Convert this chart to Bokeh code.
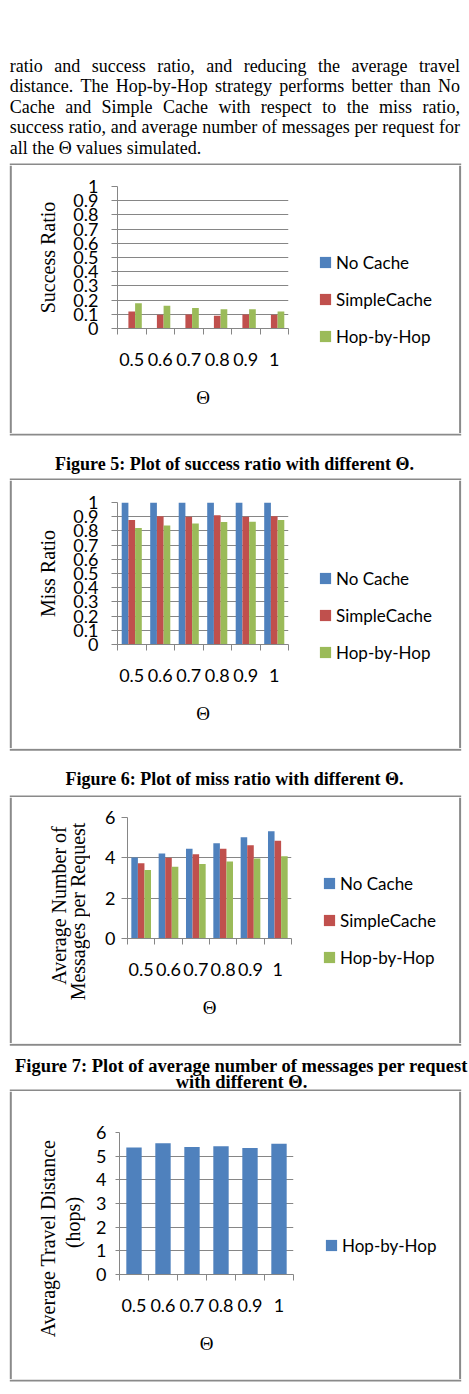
import numpy as np
from bokeh.plotting import figure
from bokeh.layouts import column, row
from bokeh.models import (Range1d, FixedTicker, NumeralTickFormatter, Legend,
                          LegendItem, ColumnDataSource)
from bokeh.core.properties import value
from bokeh.transform import dodge
from bokeh.embed import file_html
from bokeh.resources import INLINE

# ---------------- data ----------------
thetas = ["0.5", "0.6", "0.7", "0.8", "0.9", "1"]
series_names = ["No Cache", "SimpleCache", "Hop-by-Hop"]

success_nocache = [0, 0, 0, 0, 0, 0]
success_simple = [0.12, 0.097, 0.098, 0.09, 0.098, 0.097]
success_hop = [0.178, 0.16, 0.145, 0.136, 0.135, 0.12]

miss_nocache = [1, 1, 1, 1, 1, 1]
miss_simple = [0.876, 0.904, 0.9, 0.91, 0.9, 0.904]
miss_hop = [0.82, 0.838, 0.852, 0.863, 0.865, 0.876]

msg_nocache = [4.02, 4.21, 4.45, 4.72, 5.02, 5.32]
msg_simple = [3.73, 4.0, 4.18, 4.45, 4.62, 4.85]
msg_hop = [3.4, 3.56, 3.7, 3.82, 3.97, 4.08]

dist_hop = [5.37, 5.55, 5.39, 5.42, 5.34, 5.52]

ratio_ticks = [0, 0.1, 0.2, 0.3, 0.4, 0.5, 0.6, 0.7, 0.8, 0.9, 1]
msg_ticks = [0, 2, 4, 6]
dist_ticks = [0, 1, 2, 3, 4, 5, 6]

paragraph = [
    "ratio and success ratio, and reducing the average travel",
    "distance. The Hop-by-Hop strategy performs better than No",
    "Cache and Simple Cache with respect to the miss ratio,",
    "success ratio, and average number of messages per request for",
    "all the \u0398 values simulated.",
]
cap5_lines = ["Figure 5: Plot of success ratio with different \u0398."]
cap6_lines = ["Figure 6: Plot of miss ratio with different \u0398."]
cap7_lines = ["Figure 7: Plot of average number of messages per request",
              "with different \u0398."]

# ---------------- style / layout ----------------
W = 469
BLUE, RED, GREEN = "#4F81BD", "#C0504D", "#9BBB59"
GRID = "#868686"
BOX = "#8a8a8a"
SERIF = "Liberation Serif"
SANS = "Lato"
BOX_L, BOX_R = 9.3, 460.7          # outer extent of the chart boxes
EDGE_L, EDGE_R = 10.3, 459.6       # centres of the vertical box edges

# Times metrics (per 1000 em) for justified text placement
TW = dict(zip("abcdefghijklmnopqrstuvwxyz",
              [444, 500, 444, 500, 444, 333, 500, 500, 278, 278, 500, 278, 778,
               500, 500, 500, 500, 333, 389, 278, 500, 500, 722, 500, 500, 444]))
TW.update({"C": 667, "H": 722, "N": 722, "S": 556, "T": 611, "\u0398": 722,
           ".": 250, ",": 250, "-": 333, " ": 250})


def word_w(w, size):
    return sum(TW.get(ch, 500) for ch in w) * size / 1000.0


def pix_fig(w, h):
    f = figure(width=w, height=h, x_range=Range1d(0, w), y_range=Range1d(h, 0),
               output_backend="svg", toolbar_location=None, min_border=0,
               x_axis_location=None, y_axis_location=None, frame_align=False)
    f.grid.visible = False
    f.outline_line_color = None
    f.background_fill_color = "white"
    f.border_fill_color = "white"
    return f


def hedge(f, y):
    f.segment(x0=[BOX_L], y0=[y], x1=[BOX_R], y1=[y], line_color=BOX, line_width=2)


def vedge(f, x, h):
    f.segment(x0=[x], y0=[0], x1=[x], y1=[h], line_color=BOX, line_width=2)


# ---------------- paragraph ----------------
tp = pix_fig(W, 165)
FS = 18
LEFT, RIGHT = 9.3, 459.5
xs, ys, ws = [], [], []
for i, line in enumerate(paragraph):
    base = 65 + 20.6 * i
    words = line.split(" ")
    if i < len(paragraph) - 1:
        total = sum(word_w(w, FS) for w in words)
        gap = (RIGHT - LEFT - total) / (len(words) - 1)
        x = LEFT
        for w in words:
            xs.append(x); ys.append(base); ws.append(w)
            x += word_w(w, FS) + gap
    else:
        xs.append(LEFT); ys.append(base); ws.append(line)
tp.text(x=xs, y=ys, text=ws, text_font=value(SERIF), text_font_size="18px",
        text_align="left", text_baseline="alphabetic", text_color="black")
hedge(tp, 164)


def caption_fig(h, lines, cx, baselines, edges, size="18px"):
    f = pix_fig(W, h)
    f.text(x=[cx] * len(lines), y=baselines, text=lines, text_font=value(SERIF),
           text_font_size=size, text_font_style="bold", text_align="center",
           text_baseline="alphabetic", text_color="black")
    for y in edges:
        hedge(f, y)
    return f


# ---------------- chart rows ----------------
def chart_row(row_top, row_h, xL, xR, frame, ymax, yticks, ytick_out, ystand,
              data, colors, names, bar_w, offsets, titles, leg_left, leg_c0):
    fl, fr, ft, fb = frame
    # left strip: axis title(s) + left box edge
    L = pix_fig(xL, row_h)
    for text, tx, ty in titles:
        L.text(x=[tx], y=[ty - row_top], text=[text], angle=np.pi / 2,
               text_font=value(SERIF), text_font_size="20px", text_align="center",
               text_baseline="middle", text_color="black")
    vedge(L, EDGE_L, row_h)

    # chart itself
    p = figure(width=xR - xL, height=row_h, x_range=Range1d(0, len(thetas)),
               y_range=Range1d(0, ymax), output_backend="svg", toolbar_location=None,
               frame_align=False,
               min_border_left=fl - xL, min_border_right=xR - fr,
               min_border_top=ft - row_top, min_border_bottom=row_top + row_h - fb)
    p.outline_line_color = None
    p.background_fill_color = "white"
    p.border_fill_color = "white"
    centers = [i + 0.5 for i in range(len(thetas))]
    src = ColumnDataSource(dict(x=centers, **{f"s{j}": v for j, v in enumerate(data)}))
    for j, c in enumerate(colors):
        p.vbar(x=dodge("x", offsets[j]), top=f"s{j}", width=bar_w, source=src,
               fill_color=c, line_color=None)

    xa = p.xaxis[0]
    xa.ticker = FixedTicker(ticks=centers, minor_ticks=list(range(len(thetas) + 1)))
    xa.major_label_overrides = {c: t for c, t in zip(centers, thetas)}
    xa.major_tick_line_color = None
    xa.major_tick_in = 0
    xa.major_tick_out = 0
    xa.minor_tick_in = 0
    xa.minor_tick_out = 6
    xa.minor_tick_line_color = GRID
    xa.axis_line_color = GRID
    xa.major_label_standoff = 18
    xa.major_label_text_font = SANS
    xa.major_label_text_font_size = "18px"
    xa.major_label_text_color = "black"
    xa.axis_label = "\u0398"
    xa.axis_label_text_font = SERIF
    xa.axis_label_text_font_size = "19px"
    xa.axis_label_text_font_style = "normal"
    xa.axis_label_text_color = "black"
    xa.axis_label_standoff = 18

    ya = p.yaxis[0]
    ya.ticker = FixedTicker(ticks=yticks)
    ya.formatter = NumeralTickFormatter(format="0.[0]")
    ya.major_tick_in = 0
    ya.major_tick_out = ytick_out
    ya.major_tick_line_color = GRID
    ya.minor_tick_line_color = None
    ya.axis_line_color = GRID
    ya.major_label_standoff = ystand
    ya.major_label_text_font = SANS
    ya.major_label_text_font_size = "18px"
    ya.major_label_text_color = "black"

    p.xgrid.visible = False
    p.ygrid.grid_line_color = GRID

    # right strip: legend (proxy renderers without visible marks) + right box edge
    wR = W - xR
    R = pix_fig(wR, row_h)
    rends = [R.vbar(x=[np.nan], top=[np.nan], width=1, fill_color=c, line_color=None)
             for c in colors]
    n = len(names)
    item_h, spacing = 22, 15
    top = leg_c0 - row_top - item_h / 2
    bottom = top + n * item_h + (n - 1) * spacing
    legend = Legend(items=[LegendItem(label=nm, renderers=[r]) for nm, r in zip(names, rends)],
                    location=(int(round(leg_left - 1.4 - xR)), int(round(row_h - bottom))),
                    orientation="vertical", padding=0, margin=0, spacing=spacing,
                    glyph_width=14, glyph_height=14, label_height=item_h,
                    label_standoff=4, label_text_font=SANS, label_text_font_size="17px",
                    label_text_color="black", border_line_color=None,
                    background_fill_alpha=0)
    R.add_layout(legend)
    vedge(R, EDGE_R - xR, row_h)

    return row(L, p, R, spacing=0)


g3 = [-0.235, 0, 0.235]
r1 = chart_row(165, 268, 64, 300, (117, 288, 186, 328), 1, ratio_ticks, 6, 13,
               [success_nocache, success_simple, success_hop], [BLUE, RED, GREEN],
               series_names, 0.235, g3, [("Success Ratio", 47, 257)], 319, 262)
cap5 = caption_fig(47, cap5_lines, 234, [30], [1, 46])
r2 = chart_row(480, 268, 64, 300, (117, 288, 502, 644), 1, ratio_ticks, 6, 13,
               [miss_nocache, miss_simple, miss_hop], [BLUE, RED, GREEN],
               series_names, 0.235, g3, [("Miss Ratio", 47, 573)], 319, 578)
cap6 = caption_fig(49, cap6_lines, 234, [30], [1.2, 48])
r3 = chart_row(797, 246, 90, 300, (127, 291, 817, 938), 6, msg_ticks, 6, 6,
               [msg_nocache, msg_simple, msg_hop], [BLUE, RED, GREEN],
               series_names, 0.24, [-0.24, 0, 0.24],
               [("Average Number of", 58, 905), ("Messages per Request", 77, 911)],
               323, 883)
cap7 = caption_fig(48, cap7_lines, 241, [22, 38], [1.3, 47], size="18.5px")
r4 = chart_row(1091, 288, 86, 300, (119, 293, 1132, 1274), 6, dist_ticks, 4, 9,
               [dist_hop], [BLUE], ["Hop-by-Hop"], 0.53, [0],
               [("Average Travel Distance", 47, 1238), ("(hops)", 72, 1222)],
               325, 1245)
endf = pix_fig(W, 15)
hedge(endf, 1)

page = column(tp, r1, cap5, r2, cap6, r3, cap7, r4, endf, spacing=0)
open("out.html", "w").write(file_html(page, INLINE))
